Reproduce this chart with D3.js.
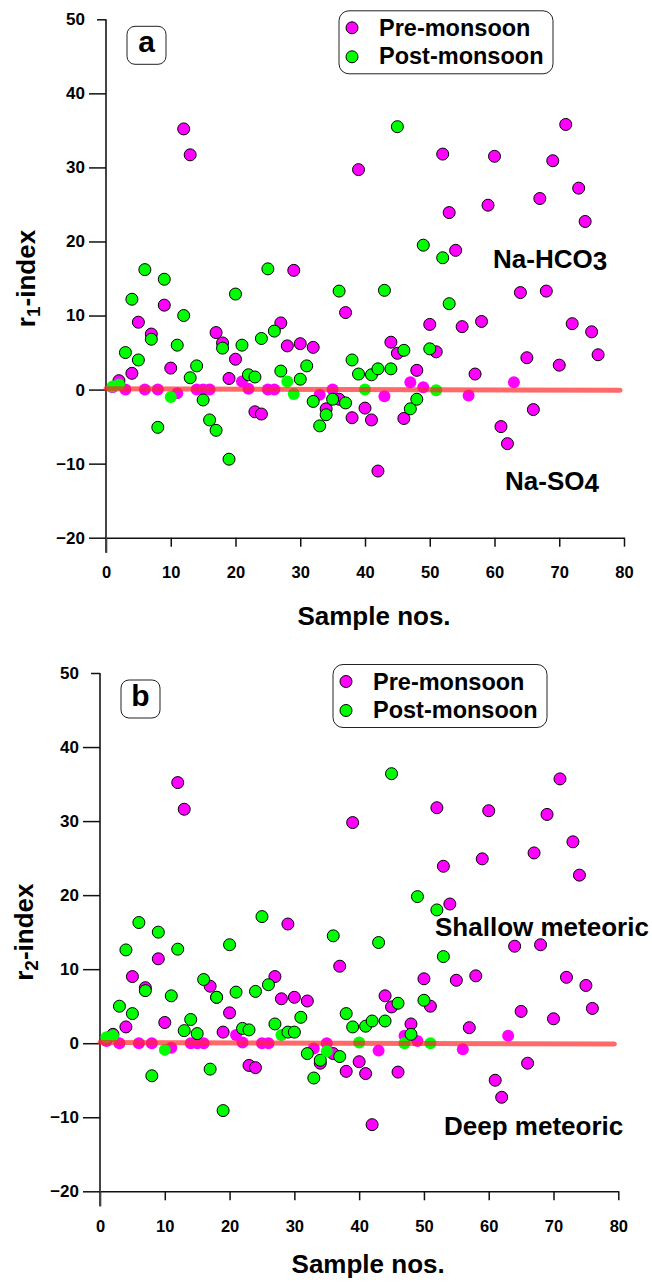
<!DOCTYPE html>
<html>
<head>
<meta charset="utf-8">
<script src="https://cdn.jsdelivr.net/npm/d3@7"></script>
<style>
  body { margin: 0; background: #fff; }
  text { font-family: "Liberation Sans", Arial, sans-serif; font-weight: bold; }
</style>
</head>
<body>
<svg id="chart" width="652" height="1282"></svg>
<script>

// sample numbers (x)
var sampleNos = [1,2,3,4,5,6,7,8,9,10,11,12,13,14,15,16,17,18,19,20,
  21,22,23,24,25,26,27,28,29,30,31,32,33,34,35,36,37,38,39,40,
  41,42,43,44,45,46,47,48,49,50,51,52,53,54,55,56,57,58,59,60,
  61,62,63,64,65,66,67,68,69,70,71,72,73,74,75,76];

// panel a: r1-index
var preA = [0.3,1.2,0,2.2,9.1,0,7.5,0,11.4,2.9,-0.5,35.2,31.7,0,0,0,7.7,6.3,1.5,4.1,
  1.1,0.1,-3.0,-3.3,0,0,9.0,5.9,16.1,6.2,null,5.7,-0.7,-2.6,0,-1.3,10.4,-3.8,29.7,-2.5,
  -4.1,-11.0,-0.9,6.4,4.9,-3.9,1.0,2.6,0.3,8.8,5.1,31.8,23.9,18.8,8.5,-0.8,2.1,9.2,24.9,31.5,
  -5.0,-7.3,1.0,13.1,4.3,-2.7,25.8,13.3,30.9,3.3,35.8,8.9,27.2,22.7,7.8,4.7];
var postA = [0.4,0.7,5.0,12.2,4.0,16.2,6.8,-5.1,14.9,-1.0,6.0,10.0,1.6,3.2,-1.4,-4.1,-5.5,5.6,-9.4,12.9,
  6.0,2.0,1.7,6.9,16.3,7.9,2.5,1.1,-0.6,1.4,3.2,-1.6,-4.9,-3.4,-1.3,13.3,-1.8,4.0,2.1,0,
  2.0,2.8,13.4,2.8,35.5,5.3,-2.6,-1.3,19.5,5.5,-0.1,17.8,11.6];

// panel b: r2-index
var preB = [0.3,1.2,0,2.2,9.0,0,7.5,0,11.4,2.8,-0.6,35.2,31.6,0,0,0,7.7,6.2,1.5,4.1,
  1.1,0.1,-3.0,-3.3,0,0,9.0,6.0,16.1,6.2,null,5.7,-0.7,-2.7,0,-1.4,10.4,-3.8,29.8,-2.5,
  -4.1,-11.0,-1.0,6.4,4.9,-3.9,1.0,2.6,0.3,8.7,5.0,31.8,23.9,18.8,8.5,-0.8,2.1,9.1,24.9,31.4,
  -5.0,-7.3,1.0,13.1,4.3,-2.7,25.7,13.3,30.9,3.3,35.7,8.9,27.2,22.7,7.8,4.7];
var postB = [0.8,1.0,5.0,12.6,4.0,16.3,7.1,-4.4,15.0,-0.9,6.4,12.7,1.7,3.2,1.3,8.6,-3.5,6.2,-9.1,13.3,
  6.9,2.0,1.8,7.0,17.1,7.9,2.6,1.1,1.5,1.5,3.5,-1.4,-4.7,-2.3,-1.1,14.5,-1.8,4.0,2.2,0.1,
  2.3,3.0,13.6,3.0,36.4,5.4,0,1.2,19.8,5.8,0,18.0,11.7];

// trend lines
var trendX = [0, 79.4];
var trendA = [0.1, -0.1];
var trendB = [0.1, -0.1];

var xTicks = [0,10,20,30,40,50,60,70,80];
var yTicks = [-20,-10,0,10,20,30,40,50];
var seriesNames = ["Pre-monsoon", "Post-monsoon"];
var seriesColors = ["#ff00ff", "#00ff00"];

var svg = d3.select("#chart");

function drawPanel(p) {
  var g = svg.append("g").attr("transform", `translate(${p.left}, ${p.top})`);

  var x = d3.scaleLinear().domain([0, 80]).range([0, p.w]);
  var y = d3.scaleLinear().domain([-20, 50]).range([p.h, 0]);

  // x axis
  var gx = g.append("g")
    .attr("transform", `translate(0, ${p.h})`)
    .call(d3.axisBottom(x).tickValues(xTicks).tickSize(9).tickPadding(20).tickSizeOuter(0));
  gx.selectAll(".tick line").attr("y2", d => d === 0 ? 15 : 9).attr("stroke", "#111").attr("stroke-width", 1.5);
  gx.select(".domain").attr("stroke", "#111").attr("stroke-width", 1.5);
  gx.selectAll("text").attr("font-size", 16.5).attr("fill", "#000")
    .attr("font-family", "Liberation Sans, Arial, sans-serif").attr("font-weight", "bold");

  // y axis
  var gy = g.append("g")
    .call(d3.axisLeft(y).tickValues(yTicks).tickSize(17).tickPadding(4).tickSizeOuter(0));
  gy.selectAll(".tick line").attr("x2", d => d === 50 ? -9 : -17).attr("stroke", "#111").attr("stroke-width", 1.5);
  gy.select(".domain").attr("d", `M0,0V${p.h + 15}`).attr("stroke", "#444").attr("stroke-width", 2);
  gy.selectAll("text").attr("font-size", 17).attr("fill", "#000")
    .attr("font-family", "Liberation Sans, Arial, sans-serif").attr("font-weight", "bold");

  // points
  [p.pre, p.post].forEach(function(vals, s) {
    var pts = vals.map((v, i) => ({n: sampleNos[i], v: v})).filter(d => d.v !== null);
    g.append("g").selectAll("circle")
      .data(pts)
      .enter()
      .append("circle")
      .attr("cx", d => x(d.n))
      .attr("cy", d => y(d.v))
      .attr("r", 6)
      .attr("fill", seriesColors[s])
      .attr("stroke", d => Math.abs(d.v) < 1.15 ? "none" : "#000")
      .attr("stroke-width", 1);
  });

  // trend line
  g.append("line")
    .attr("x1", x(trendX[0])).attr("y1", y(p.trend[0]))
    .attr("x2", x(trendX[1])).attr("y2", y(p.trend[1]))
    .attr("stroke", "#ff2a2a")
    .attr("stroke-opacity", 0.7)
    .attr("stroke-width", 5)
    .attr("stroke-linecap", "round");

  // panel letter box
  g.append("rect")
    .attr("x", 21).attr("y", 7).attr("width", 39).attr("height", 38)
    .attr("rx", 8).attr("fill", "#fff").attr("stroke", "#222").attr("stroke-width", 1);
  g.append("text")
    .attr("x", 40.5).attr("y", 33)
    .attr("text-anchor", "middle")
    .attr("font-size", 30)
    .text(p.letter);

  // legend
  var lg = g.append("g").attr("transform", "translate(233, -8.5)");
  lg.append("rect")
    .attr("width", 214).attr("height", 63).attr("rx", 10)
    .attr("fill", "#fff").attr("stroke", "#222").attr("stroke-width", 1);
  seriesNames.forEach(function(name, i) {
    lg.append("circle")
      .attr("cx", 13).attr("cy", 17 + i * 29).attr("r", 6)
      .attr("fill", seriesColors[i]).attr("stroke", "#000").attr("stroke-width", 1);
    lg.append("text")
      .attr("x", 40).attr("y", 25 + i * 28.5)
      .attr("font-size", 23.5)
      .text(name);
  });

  // region labels
  p.zones.forEach(function(z) {
    var t = g.append("text").attr("x", z.x).attr("y", z.y).attr("font-size", 26);
    t.append("tspan").text(z.text);
    if (z.digit) t.append("tspan").attr("dy", 2).text(z.digit);
  });

  // axis titles
  g.append("text")
    .attr("x", p.w / 2 + 9).attr("y", p.h + p.titleGap)
    .attr("text-anchor", "middle")
    .attr("font-size", 26)
    .text("Sample nos.");

  var yl = g.append("text")
    .attr("transform", `translate(${p.yLabelX}, ${p.h / 2}) rotate(-90)`)
    .attr("text-anchor", "middle")
    .attr("font-size", 26);
  yl.append("tspan").text("r");
  yl.append("tspan").attr("font-size", 19).attr("dy", 5).text(p.sub);
  yl.append("tspan").attr("dy", -5).text("-index");
}

drawPanel({
  left: 106, top: 19.3, w: 518, h: 518.4,
  pre: preA, post: postA, trend: trendA,
  letter: "a", sub: "1", yLabelX: -71, titleGap: 87,
  zones: [
    {text: "Na-HCO", digit: "3", x: 387, y: 249},
    {text: "Na-SO", digit: "4", x: 399, y: 471}
  ]
});

drawPanel({
  left: 100, top: 673, w: 518.3, h: 518.3,
  pre: preB, post: postB, trend: trendB,
  letter: "b", sub: "2", yLabelX: -67, titleGap: 82,
  zones: [
    {text: "Shallow meteoric", x: 335, y: 263},
    {text: "Deep meteoric", x: 344, y: 462}
  ]
});

</script>
</body>
</html>
